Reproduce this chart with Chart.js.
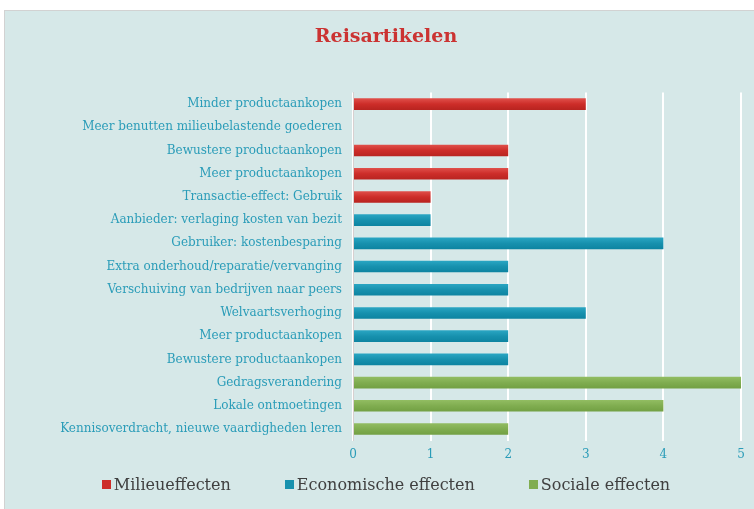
<!DOCTYPE html>
<html>
<head>
<meta charset="utf-8">
<script src="https://cdn.jsdelivr.net/npm/chart.js@4"></script>
<style>
  html, body { margin: 0; padding: 0; background: #fff; overflow: hidden; width: 754px; height: 509px; }
  #frame {
    position: absolute; left: 4px; top: 10px; width: 762px; height: 499px;
    background: #d6e8e8; border-top: 1px solid #d2d2d2; border-left: 1px solid #d2d2d2;
  }
  #chart { position: absolute; left: 0; top: 0; }
  #legend {
    position: absolute; left: 0; top: 463px; width: 762px; height: 20px;
    display: flex; justify-content: center; gap: 54px;
    font: 16px "DejaVu Serif", serif; color: #404040;
  }
  #legend span.item { display: flex; align-items: center; }
  #legend i { display: inline-block; width: 9px; height: 9px; margin-right: 3px; }
</style>
</head>
<body>
<div id="frame">
  <canvas id="chart" width="762" height="499"></canvas>
  <div id="legend"></div>
</div>
<script>
const categories = [
    'Minder productaankopen',
    'Meer benutten milieubelastende goederen',
    'Bewustere productaankopen',
    'Meer productaankopen',
    'Transactie-effect: Gebruik',
    'Aanbieder: verlaging kosten van bezit',
    'Gebruiker: kostenbesparing',
    'Extra onderhoud/reparatie/vervanging',
    'Verschuiving van bedrijven naar peers',
    'Welvaartsverhoging',
    'Meer productaankopen',
    'Bewustere productaankopen',
    'Gedragsverandering',
    'Lokale ontmoetingen',
    'Kennisoverdracht, nieuwe vaardigheden leren'
];

const milieu      = [3, 0, 2, 2, 1, null, null, null, null, null, null, null, null, null, null];
const economisch  = [null, null, null, null, null, 1, 4, 2, 2, 3, 2, 2, null, null, null];
const sociaal     = [null, null, null, null, null, null, null, null, null, null, null, null, 5, 4, 2];

const seriesNames  = ['Milieueffecten', 'Economische effecten', 'Sociale effecten'];
const seriesColors = ['#cd2d29', '#1791ae', '#80ad50'];
// light top / dark bottom of each bar
const seriesLight  = ['#e0504b', '#2aa6c3', '#92bd62'];
const seriesDark   = ['#b82420', '#0d84a1', '#72a043'];
const xTicks = [0, 1, 2, 3, 4, 5];

const labelColor = '#2a9cb8';
const serif = '"DejaVu Serif", serif';
const barPct = 0.5;

// vertical gradient per bar, placed from the category scale
function barFill(i) {
    return (c) => {
        const y = c.chart.scales.y;
        if (!y || !y.height) return seriesColors[i];
        const cy = y.getPixelForValue(c.dataIndex);
        const half = y.height / categories.length * barPct / 2;
        const g = c.chart.ctx.createLinearGradient(0, cy - half, 0, cy + half);
        g.addColorStop(0, seriesLight[i]);
        g.addColorStop(0.5, seriesColors[i]);
        g.addColorStop(1, seriesDark[i]);
        return g;
    };
}

const ctx = document.getElementById('chart').getContext('2d');
const chart = new Chart(ctx, {
    type: 'bar',
    data: {
        labels: categories,
        datasets: [milieu, economisch, sociaal].map((vals, i) => ({
            label: seriesNames[i],
            data: vals,
            backgroundColor: barFill(i),
            borderWidth: 0,
            barPercentage: barPct,
            categoryPercentage: 1,
            yAxisID: 'y'
        }))
    },
    options: {
        indexAxis: 'y',
        responsive: false,
        animation: false,
        layout: { padding: { left: 0, right: 0, top: 0, bottom: 41 } },
        plugins: {
            legend: { display: false },
            tooltip: { enabled: false },
            title: {
                display: true,
                text: 'Reisartikelen',
                color: '#cb3332',
                font: { family: serif, size: 19, weight: 'bold', lineHeight: 1.2 },
                padding: { top: 14.6, bottom: 44.1 }
            }
        },
        scales: {
            x: {
                stacked: true,
                min: 0,
                max: 5,
                afterBuildTicks: (scale) => { scale.ticks = xTicks.map(v => ({ value: v })); },
                grid: { color: '#ffffff', lineWidth: 2, drawTicks: false },
                border: { display: false },
                ticks: { color: labelColor, padding: 7, font: { family: serif, size: 12 } }
            },
            y: {
                stacked: true,
                afterFit: (scale) => { scale.width = 348; },
                grid: { display: false, drawTicks: false },
                border: { display: true, color: '#d8d0d0', width: 1 },
                ticks: { color: labelColor, padding: 11, autoSkip: false, font: { family: serif, size: 12 } }
            },
            // empty right-hand axis, only to keep space right of the plot
            yRight: {
                type: 'category',
                labels: categories,
                position: 'right',
                afterFit: (scale) => { scale.width = 26; },
                grid: { display: false, drawTicks: false },
                border: { display: false },
                ticks: { display: false }
            }
        }
    }
});

// legend as HTML, built from the series names and colours
const legend = document.getElementById('legend');
seriesNames.forEach((name, i) => {
    const item = document.createElement('span');
    item.className = 'item';
    const box = document.createElement('i');
    box.style.background = seriesColors[i];
    item.appendChild(box);
    item.appendChild(document.createTextNode(name));
    legend.appendChild(item);
});
</script>
</body>
</html>
